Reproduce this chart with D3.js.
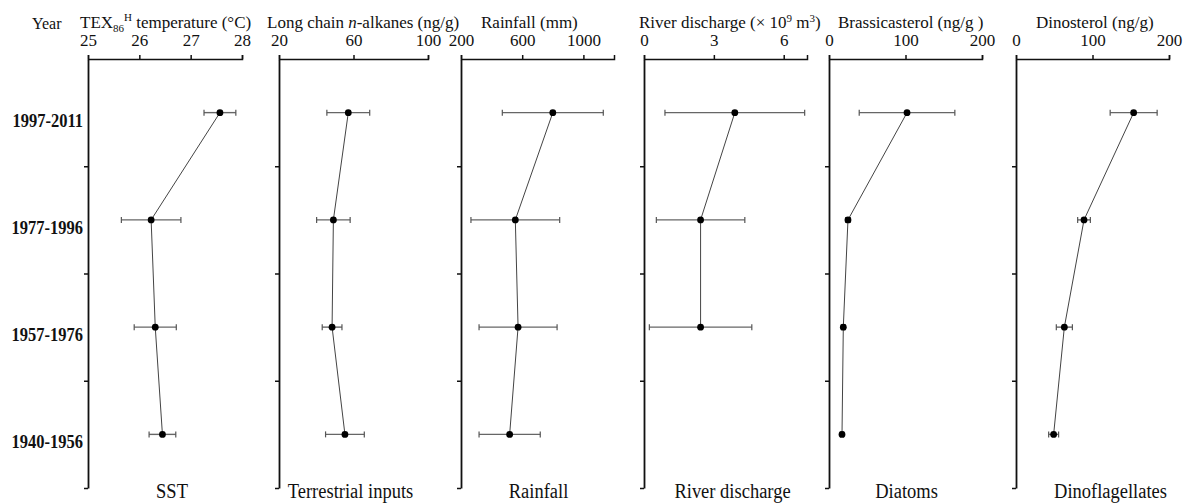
<!DOCTYPE html>
<html>
<head>
<meta charset="utf-8">
<script src="https://cdn.jsdelivr.net/npm/d3@7"></script>
<style>
  body { margin: 0; background: #fff; }
  svg text { font-family: "Liberation Serif", "Times New Roman", serif; fill: #111; }
</style>
</head>
<body>
<div id="chart"></div>
<script>
// periods, top to bottom
const periods = ['1997-2011', '1977-1996', '1957-1976', '1940-1956'];

// means and +/- errors
const sstMean = [27.57, 26.23, 26.31, 26.45];
const sstErr = [0.31, 0.58, 0.41, 0.26];
const alkaneMean = [57.2, 49.2, 48.5, 55.4];
const alkaneErr = [11.5, 9.0, 5.3, 10.4];
const rainMean = [800, 555, 573, 518];
const rainErr = [330, 290, 255, 200];
const riverMean = [3.9, 2.43, 2.43, null];
const riverErr = [3.0, 1.9, 2.2, null];
const brassMean = [102, 24.8, 18.7, 17];
const brassErr = [62.5, 3, 2.5, 2];
const dinoMean = [153.8, 88.9, 63.2, 49.2];
const dinoErr = [30.7, 8.3, 10.5, 6.5];

// axis domains and tick labels
const domains = [[25, 28], [20, 100], [200, 1200], [0, 7], [0, 200], [0, 200]];
const tickValues = [[25, 26, 27, 28], [20, 60, 100], [200, 600, 1000], [0, 3, 6], [0, 100, 200], [0, 100, 200]];
const bottomLabels = ['SST', 'Terrestrial inputs', 'Rainfall', 'River discharge', 'Diatoms', 'Dinoflagellates'];

const series = [
    { mean: sstMean, err: sstErr },
    { mean: alkaneMean, err: alkaneErr },
    { mean: rainMean, err: rainErr },
    { mean: riverMean, err: riverErr },
    { mean: brassMean, err: brassErr },
    { mean: dinoMean, err: dinoErr }
];

// layout
const width = 1188, height = 504;
const plotTop = 59, plotBottom = 488;
const panelX = [[88, 242], [279, 428], [461, 614], [644, 807], [829, 982], [1016, 1169]];
const titleX = [80, 267, 481, 639, 838, 1036];
const labelShift = [7, -3, 1, 7, 1, 18];

const svg = d3.select('#chart').append('svg')
    .attr('width', width)
    .attr('height', height);

const y = d3.scaleBand().domain(periods).range([plotTop, plotBottom]).padding(0);
const yEdge = d3.scaleLinear().domain([0, periods.length]).range([plotTop, plotBottom]);

// text stretched a little vertically like the source figure
function stretchText(g, x, yPos, str, size, sy, anchor, weight) {
    return g.append('text')
        .attr('transform', `translate(${x},${yPos}) scale(1,${sy})`)
        .attr('text-anchor', anchor)
        .style('font-size', size + 'px')
        .style('font-weight', weight || 'normal')
        .text(str);
}

svg.append('text')
    .attr('x', 32).attr('y', 29)
    .style('font-size', '16px')
    .text('Year');

// titles
const titleSize = 17;
function title(i) {
    return svg.append('text')
        .attr('x', titleX[i]).attr('y', 28)
        .style('font-size', titleSize + 'px');
}
let t = title(0);
t.append('tspan').text('TEX');
t.append('tspan').attr('dy', 4).style('font-size', '11px').text('86');
t.append('tspan').attr('dy', -11).style('font-size', '11px').text('H');
t.append('tspan').attr('dy', 7).text(' temperature (\u00b0C)');

t = title(1);
t.append('tspan').text('Long chain ');
t.append('tspan').style('font-style', 'italic').text('n');
t.append('tspan').text('-alkanes (ng/g)');

title(2).text('Rainfall (mm)');

t = title(3);
t.append('tspan').text('River discharge (\u00d7 10');
t.append('tspan').attr('dy', -6).style('font-size', '11px').text('9');
t.append('tspan').attr('dy', 6).text(' m');
t.append('tspan').attr('dy', -6).style('font-size', '11px').text('3');
t.append('tspan').attr('dy', 6).text(')');

title(4).text('Brassicasterol (ng/g )');
title(5).text('Dinosterol (ng/g)');

// year labels
periods.forEach(p => {
    stretchText(svg, 83, y(p) + y.bandwidth() / 2 + 14, p, 16.5, 1.2, 'end', 'bold');
});

series.forEach((s, i) => {
    const x = d3.scaleLinear().domain(domains[i]).range(panelX[i]);
    const g = svg.append('g');

    const xAxis = g.append('g')
        .attr('transform', `translate(0,${plotTop})`)
        .call(d3.axisTop(x).tickValues(tickValues[i]).tickFormat(d3.format('d'))
            .tickSize(4).tickSizeOuter(4).tickPadding(9));
    xAxis.select('.domain').attr('stroke', '#111').attr('stroke-width', 1.5);
    xAxis.selectAll('.tick line').attr('stroke', '#111').attr('stroke-width', 1.5);
    xAxis.selectAll('.tick text')
        .style('font-size', '17px')
        .style('font-family', '"Liberation Serif", "Times New Roman", serif')
        .attr('fill', '#111');

    const yAxis = g.append('g')
        .attr('transform', `translate(${panelX[i][0]},0)`)
        .call(d3.axisLeft(yEdge).tickValues([1, 2, 3, 4]).tickFormat('').tickSize(4).tickSizeOuter(0));
    yAxis.select('.domain').attr('stroke', '#111').attr('stroke-width', 1.8);
    yAxis.selectAll('.tick line').attr('stroke', '#111').attr('stroke-width', 1.5);

    const pts = periods.map((p, j) => ({ p, m: s.mean[j], e: s.err[j] }))
        .filter(d => d.m != null);

    const line = d3.line()
        .x(d => x(d.m))
        .y(d => y(d.p) + y.bandwidth() / 2);

    g.append('path')
        .datum(pts)
        .attr('d', line)
        .attr('fill', 'none')
        .attr('stroke', '#444')
        .attr('stroke-width', 1);

    const eb = g.selectAll('.err').data(pts).enter().append('g');
    eb.append('line')
        .attr('x1', d => x(d.m - d.e)).attr('x2', d => x(d.m + d.e))
        .attr('y1', d => y(d.p) + y.bandwidth() / 2).attr('y2', d => y(d.p) + y.bandwidth() / 2)
        .attr('stroke', '#666').attr('stroke-width', 1.4);
    [-1, 1].forEach(sgn => {
        eb.append('line')
            .attr('x1', d => x(d.m + sgn * d.e)).attr('x2', d => x(d.m + sgn * d.e))
            .attr('y1', d => y(d.p) + y.bandwidth() / 2 - 3).attr('y2', d => y(d.p) + y.bandwidth() / 2 + 3)
            .attr('stroke', '#555').attr('stroke-width', 1.2);
    });

    g.selectAll('.pt').data(pts).enter().append('circle')
        .attr('cx', d => x(d.m))
        .attr('cy', d => y(d.p) + y.bandwidth() / 2)
        .attr('r', 3.4)
        .attr('fill', '#000');

    const cx = (panelX[i][0] + panelX[i][1]) / 2 + labelShift[i];
    stretchText(svg, cx, 498, bottomLabels[i], 18.5, 1.18, 'middle');
});
</script>
</body>
</html>
